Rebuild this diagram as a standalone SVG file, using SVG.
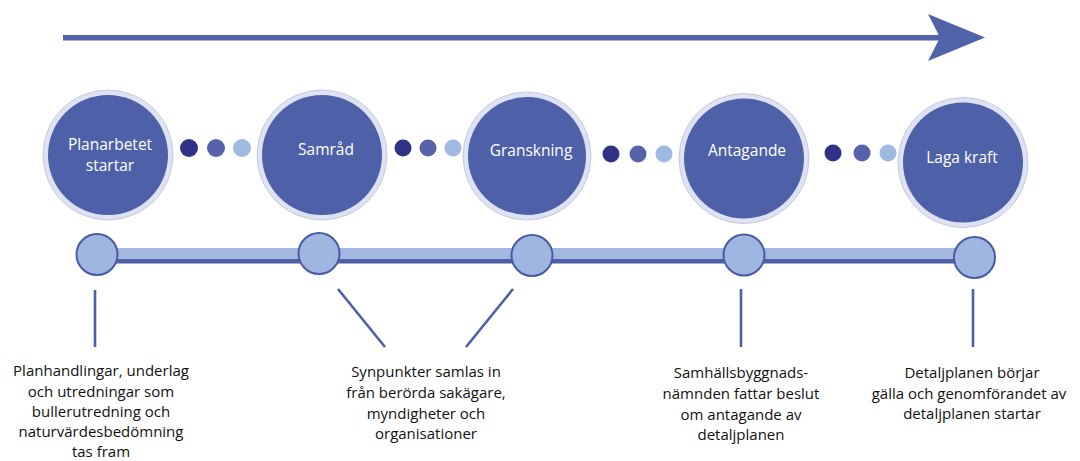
<svg xmlns="http://www.w3.org/2000/svg" width="1080" height="461" viewBox="0 0 1080 461">
<style>
.ring{fill:#dfe2f2;stroke:#c5c9de;stroke-width:1}
.core{fill:#4e60a7}
.lbl{font-family:"Open Sans","Noto Sans",sans-serif;font-size:15.5px;fill:#ffffff;text-anchor:middle}
.d1{fill:#2f3286}.d2{fill:#5862aa}.d3{fill:#a0b9e0}
.tc{fill:#9fb6e0;stroke:#4a5aa3;stroke-width:2}
.ln{stroke:#4f5fa6;stroke-width:2.6;fill:none}
.desc{font-family:"Open Sans","Noto Sans",sans-serif;font-size:15px;fill:#111111;text-anchor:middle}
</style>
<g id="arrow">
<rect x="63" y="35" width="880" height="5.5" fill="#5062a8"/>
<polygon points="928,14 985,37.5 928,61 940,37.5" fill="#5062a8"/>
</g>
<g id="dots">
<circle class="d1" cx="189" cy="148" r="9"/><circle class="d2" cx="216" cy="148" r="9"/><circle class="d3" cx="242" cy="148" r="9"/>
<circle class="d1" cx="403" cy="148" r="8.5"/><circle class="d2" cx="428" cy="148" r="8.5"/><circle class="d3" cx="453" cy="148" r="8.5"/>
<circle class="d1" cx="611" cy="154" r="8.5"/><circle class="d2" cx="638" cy="154" r="8.5"/><circle class="d3" cx="664" cy="154" r="8.5"/>
<circle class="d1" cx="833" cy="153" r="8.5"/><circle class="d2" cx="862" cy="153" r="8.5"/><circle class="d3" cx="888" cy="153" r="8.5"/>
</g>
<g id="node-planarbetet">
<circle class="ring" cx="108" cy="155" r="65"/><circle class="core" cx="108" cy="155" r="60"/>
<text class="lbl" x="110" y="150">Planarbetet</text><text class="lbl" x="110" y="171">startar</text>
</g>
<g id="node-samrad">
<circle class="ring" cx="322" cy="155" r="65"/><circle class="core" cx="322" cy="155" r="60"/>
<text class="lbl" x="326" y="155">Samråd</text>
</g>
<g id="node-granskning">
<circle class="ring" cx="527" cy="156" r="64"/><circle class="core" cx="527" cy="156" r="59"/>
<text class="lbl" x="531" y="156">Granskning</text>
</g>
<g id="node-antagande">
<circle class="ring" cx="744" cy="158.5" r="65"/><circle class="core" cx="744" cy="158.5" r="60"/>
<text class="lbl" x="747" y="156">Antagande</text>
</g>
<g id="node-laga-kraft">
<circle class="ring" cx="963" cy="162.5" r="65"/><circle class="core" cx="963" cy="162.5" r="60"/>
<text class="lbl" x="962" y="163">Laga kraft</text>
</g>
<g id="connectors">
<rect x="97" y="248" width="878" height="11" fill="#a3b8e0"/>
<rect x="97" y="259" width="878" height="4.5" fill="#4f5fa6"/>
<line class="ln" x1="95" y1="290" x2="95" y2="347"/>
<line class="ln" x1="338" y1="289" x2="385" y2="347"/>
<line class="ln" x1="513" y1="289" x2="466" y2="347"/>
<line class="ln" x1="741" y1="289" x2="741" y2="347"/>
<line class="ln" x1="973" y1="289" x2="973" y2="347"/>
</g>
<g id="timeline-points">
<circle class="tc" cx="97" cy="254.5" r="20.5"/>
<circle class="tc" cx="319" cy="253.5" r="20.5"/>
<circle class="tc" cx="532" cy="255.5" r="20.5"/>
<circle class="tc" cx="744" cy="255" r="20.5"/>
<circle class="tc" cx="974.5" cy="257.5" r="20.5"/>
</g>
<g id="desc-1">
<text class="desc" x="101" y="376">Planhandlingar, underlag</text>
<text class="desc" x="101" y="397">och utredningar som</text>
<text class="desc" x="101" y="417">bullerutredning och</text>
<text class="desc" x="101" y="437">naturvärdesbedömning</text>
<text class="desc" x="101" y="457">tas fram</text>
</g>
<g id="desc-2">
<text class="desc" x="426" y="377">Synpunkter samlas in</text>
<text class="desc" x="426" y="398">från berörda sakägare,</text>
<text class="desc" x="426" y="419">myndigheter och</text>
<text class="desc" x="426" y="439">organisationer</text>
</g>
<g id="desc-3">
<text class="desc" x="741" y="378">Samhällsbyggnads-</text>
<text class="desc" x="741" y="399">nämnden fattar beslut</text>
<text class="desc" x="741" y="420">om antagande av</text>
<text class="desc" x="741" y="440">detaljplanen</text>
</g>
<g id="desc-4">
<text class="desc" x="972" y="378">Detaljplanen börjar</text>
<text class="desc" x="969" y="399">gälla och genomförandet av</text>
<text class="desc" x="972" y="419">detaljplanen startar</text>
</g>
</svg>
